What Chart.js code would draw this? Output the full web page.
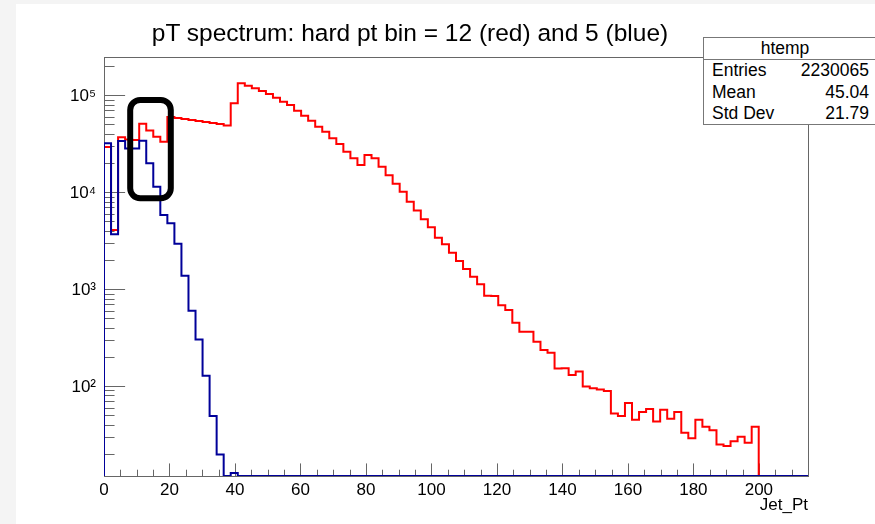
<!DOCTYPE html>
<html>
<head>
<meta charset="utf-8">
<script src="https://cdn.jsdelivr.net/npm/chart.js@4/dist/chart.umd.min.js"></script>
<style>
html,body{margin:0;padding:0;width:875px;height:524px;overflow:hidden;background:#f4f4f4;font-family:"Liberation Sans",Arial,Helvetica,sans-serif;}
#paper{position:absolute;left:16px;top:4px;width:859px;height:520px;background:#fff;}
#c{position:absolute;left:0;top:0;}
#title{position:absolute;left:0;width:820px;top:18px;text-align:center;font-size:24.5px;line-height:30px;color:#000;white-space:nowrap;}
#stats{position:absolute;left:703px;top:37px;width:230px;height:88px;border:1px solid #777;background:#fff;box-sizing:border-box;font-size:17.5px;color:#000;}
#stats .hdr{position:absolute;left:0;top:0;width:162px;height:21px;line-height:21px;text-align:center;}
#stats .sep{position:absolute;left:0;top:21px;width:100%;height:0;border-top:1px solid #777;}
#stats .lab{position:absolute;left:8px;line-height:21px;}
#stats .val{position:absolute;left:0;width:165px;text-align:right;line-height:21px;}
</style>
</head>
<body>
<div id="paper"></div>
<canvas id="c" width="875" height="524"></canvas>
<div id="title">pT spectrum: hard pt bin = 12 (red) and 5 (blue)</div>
<div id="stats">
  <div class="hdr">htemp</div>
  <div class="sep"></div>
  <div class="lab" style="top:22px">Entries</div><div class="val" style="top:22px">2230065</div>
  <div class="lab" style="top:44px">Mean</div><div class="val" style="top:44px">45.04</div>
  <div class="lab" style="top:65px">Std Dev</div><div class="val" style="top:65px">21.79</div>
</div>
<script>
// ---- histogram definition (100 bins over 0..215) ----
const X_MIN = 0;
const X_MAX = 215;
const N_BINS = 100;

// bin contents, hard pt bin = 12 (red)
const redCounts = [
  29300, 4070, 36900, 35000, 34600, 50900, 43300, 37400, 33200, 59700,
  58300, 56900, 55600, 54300, 53000, 51800, 50600, 48800, 82700, 133000,
  125600, 118100, 110800, 103100, 94500, 85900, 79400, 69400, 61600, 54700,
  47400, 42100, 36000, 31400, 26200, 22400, 19100, 24200, 22400, 18300,
  15000, 12200, 10100, 7980, 6470, 5250, 4340, 3390, 2900, 2370,
  1950, 1610, 1340, 1120, 855, 849, 680, 609, 450, 363,
  363, 287, 235, 221, 152, 153, 130, 141, 99, 95,
  92, 89, 52, 49, 67, 45, 54, 58, 43, 57,
  46, 54, 33, 29, 45, 38, 35, 25, 24, 27,
  30, 26, 38, 0, 0, 0, 0, 0, 0, 0
];

// bin contents, hard pt bin = 5 (blue)
const blueCounts = [
  31960, 3680, 33800, 28300, 28300, 34000, 19900, 11400, 5820, 4780,
  2940, 1375, 599, 303, 128, 49, 19.7, 0, 12.7, 0,
  0, 0, 0, 0, 0, 0, 0, 0, 0, 0,
  0, 0, 0, 0, 0, 0, 0, 0, 0, 0,
  0, 0, 0, 0, 0, 0, 0, 0, 0, 0,
  0, 0, 0, 0, 0, 0, 0, 0, 0, 0,
  0, 0, 0, 0, 0, 0, 0, 0, 0, 0,
  0, 0, 0, 0, 0, 0, 0, 0, 0, 0,
  0, 0, 0, 0, 0, 0, 0, 0, 0, 0,
  0, 0, 0, 0, 0, 0, 0, 0, 0, 0
];

// axis ticks
const xTickValues = [0, 20, 40, 60, 80, 100, 120, 140, 160, 180, 200];
const yTickValues = [100, 1000, 10000, 100000];
const Y_MIN = 11.8;
const Y_MAX = 248500;

// highlighted region (hand-drawn box), in data coordinates
const highlight = {x0: 8.0, x1: 20.4, yTop: 89400, yBottom: 8650};

const binWidth = (X_MAX - X_MIN) / N_BINS;
function histPoints(counts) {
  const shown = v => (v > 0 ? v : Y_MIN); // empty bins sit on the frame like ROOT
  const pts = [{x: X_MIN, y: Y_MIN}];
  counts.forEach((v, i) => pts.push({x: X_MIN + i * binWidth, y: shown(v)}));
  pts.push({x: X_MAX, y: Y_MIN});
  return pts;
}

const sup = {2: '\u00b2', 3: '\u00b3', 4: '\u2074', 5: '\u2075'};

const rootFrame = {
  id: 'rootFrame',
  beforeDatasetsDraw(chart) {
    const {ctx, chartArea: a, scales: {x, y}} = chart;
    ctx.save();
    ctx.strokeStyle = '#666';
    ctx.lineWidth = 1;
    ctx.strokeRect(Math.round(a.left) + 0.5, Math.round(a.top) + 0.5,
      Math.round(a.right - a.left), Math.round(a.bottom - a.top));
    ctx.beginPath();
    const H = a.bottom - a.top, W = a.right - a.left;
    for (let n = 1; n <= 5; n++) {
      for (let k = 1; k <= 9; k++) {
        const v = k * Math.pow(10, n);
        if (v < Y_MIN || v > Y_MAX) continue;
        const len = (k === 1 ? 0.03 : 0.015) * W;
        const py = Math.round(y.getPixelForValue(v)) + 0.5;
        ctx.moveTo(a.left, py); ctx.lineTo(a.left + len, py);
      }
    }
    for (let v = X_MIN; v <= X_MAX + 1e-9; v += 5) {
      const len = (v % 20 === 0 ? 0.03 : 0.015) * H;
      const px = Math.round(x.getPixelForValue(v)) + 0.5;
      ctx.moveTo(px, a.bottom); ctx.lineTo(px, a.bottom - len);
    }
    ctx.stroke();
    ctx.restore();
  },
  afterDatasetsDraw(chart) {
    const {ctx, scales: {x, y}} = chart;
    const l = x.getPixelForValue(highlight.x0), r = x.getPixelForValue(highlight.x1);
    const t = y.getPixelForValue(highlight.yTop), b = y.getPixelForValue(highlight.yBottom);
    ctx.save();
    ctx.strokeStyle = '#000';
    ctx.lineWidth = 6;
    ctx.beginPath();
    ctx.roundRect(l, t, r - l, b - t, 10);
    ctx.stroke();
    ctx.restore();
  }
};

new Chart(document.getElementById('c'), {
  type: 'line',
  data: {
    datasets: [
      {label: 'hard pt bin = 5', data: histPoints(blueCounts), stepped: 'before',
       borderColor: '#000099', borderWidth: 2, pointRadius: 0, fill: false, order: 0},
      {label: 'hard pt bin = 12', data: histPoints(redCounts), stepped: 'before',
       borderColor: '#ff0000', borderWidth: 2, pointRadius: 0, fill: false, order: 1}
    ]
  },
  options: {
    responsive: false,
    devicePixelRatio: 1,
    animation: false,
    layout: {padding: {top: 57, right: 67, left: 0, bottom: 0}},
    plugins: {legend: {display: false}, tooltip: {enabled: false}, title: {display: false}},
    scales: {
      x: {
        type: 'linear', min: X_MIN, max: X_MAX,
        grid: {display: false, drawTicks: false}, border: {display: false},
        afterBuildTicks: s => { s.ticks = xTickValues.map(v => ({value: v})); },
        afterFit: s => { s.height = 48; },
        ticks: {color: '#000', font: {family: '"Liberation Sans", Arial, sans-serif', size: 17},
                padding: 4, maxRotation: 0, autoSkip: false},
        title: {display: true, text: 'Jet_Pt', align: 'end', color: '#000',
                font: {family: '"Liberation Sans", Arial, sans-serif', size: 17},
                padding: {top: 0, bottom: 8}}
      },
      y: {
        type: 'logarithmic', min: Y_MIN, max: Y_MAX,
        grid: {display: false, drawTicks: false}, border: {display: false},
        afterBuildTicks: s => { s.ticks = yTickValues.map(v => ({value: v, major: true})); },
        afterFit: s => { s.width = 104; },
        ticks: {color: '#000', font: {family: '"Liberation Sans", Arial, sans-serif', size: 17},
                padding: 8, labelOffset: 1,
                callback: v => '10' + sup[Math.round(Math.log10(v))]}
      }
    }
  },
  plugins: [rootFrame]
});
</script>
</body>
</html>
